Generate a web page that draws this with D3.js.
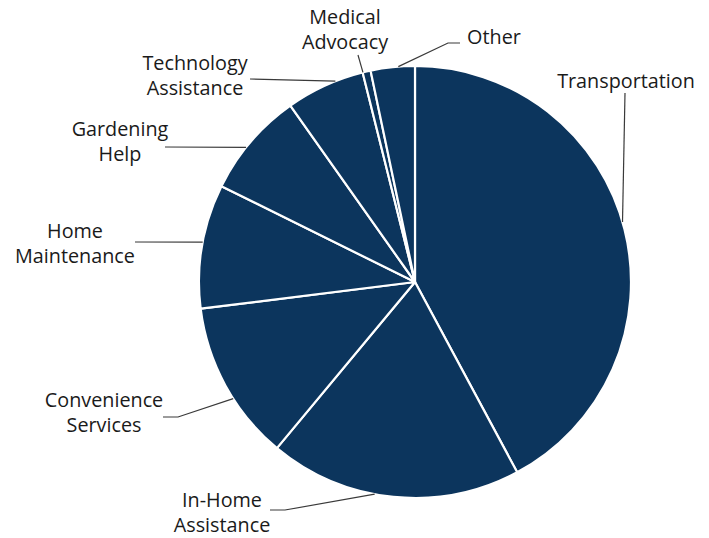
<!DOCTYPE html>
<meta charset="utf-8">
<head>
  <script src="https://d3js.org/d3.v7.min.js"></script>
  <style>
    html, body { margin: 0; background: #fff; }
    text { font-family: 'Open Sans', 'Lato', sans-serif; font-size: 19.8px; fill: #1a1a1a; }
  </style>
</head>
<body>
<div id="my_dataviz"></div>

<script>

// data (share of requests, %)
var categories = ["Transportation", "In-Home Assistance", "Convenience Services", "Home Maintenance",
                  "Gardening Help", "Technology Assistance", "Medical Advocacy", "Other"]
var values = [42.2, 18.9, 12.0, 9.3, 7.9, 5.9, 0.6, 3.3]
var labelLines = [["Transportation"], ["In-Home", "Assistance"], ["Convenience", "Services"],
                  ["Home", "Maintenance"], ["Gardening", "Help"], ["Technology", "Assistance"],
                  ["Medical", "Advocacy"], ["Other"]]

// where each label sits and where its leader line bends
var labelLayout = {
  "Transportation":        {x: 626, y: 83,  elbow: [625, 93],  nudge: -2},
  "In-Home Assistance":    {x: 222, y: 502, elbow: [285, 510], nudge: 5, tail: [270, 510]},
  "Convenience Services":  {x: 104, y: 402, elbow: [178, 417], nudge: -4, tail: [163, 417]},
  "Home Maintenance":      {x: 75,  y: 233, elbow: [135, 242], nudge: 1},
  "Gardening Help":        {x: 120, y: 131, elbow: [165, 147], nudge: -2},
  "Technology Assistance": {x: 195, y: 65,  elbow: [250, 79],  nudge: 3},
  "Medical Advocacy":      {x: 345, y: 19,  elbow: [358, 55],  nudge: -1},
  "Other":                 {x: 494, y: 39,  elbow: [448, 43],  nudge: 1.5, tail: [460, 43]}
}

var width = 709, height = 538
var cx = 415, cy = 282, radius = 216

var svg = d3.select("#my_dataviz")
  .append("svg")
    .attr("width", width)
    .attr("height", height)
    .style("display", "block")

var g = svg.append("g")
    .attr("transform", "translate(" + cx + "," + cy + ")")

var pie = d3.pie().sort(null).value(function(d) { return d.value })
var arcs = pie(categories.map(function(c, i) { return {name: c, value: values[i], lines: labelLines[i]} }))

var arc = d3.arc().innerRadius(0).outerRadius(radius)

g.selectAll("path.slice")
  .data(arcs)
  .enter()
  .append("path")
    .attr("class", "slice")
    .attr("d", arc)
    .style("fill", "#0c355d")
    .style("stroke", "#ffffff")
    .style("stroke-width", 2.2)
    .style("stroke-linejoin", "round")

// leader lines
arcs.forEach(function(a) {
  var lay = labelLayout[a.data.name]
  var ang = (a.startAngle + a.endAngle) / 2 + lay.nudge * Math.PI / 180
  var px = cx + radius * Math.sin(ang)
  var py = cy - radius * Math.cos(ang)
  var pts = [[px, py], lay.elbow]
  if (lay.tail) pts.push(lay.tail)
  svg.append("path")
    .attr("d", d3.line()(pts))
    .style("fill", "none")
    .style("stroke", "#3a3a3a")
    .style("stroke-width", 1.2)
})

// labels
arcs.forEach(function(a) {
  var lay = labelLayout[a.data.name]
  var t = svg.append("text")
    .attr("x", lay.x)
    .attr("y", lay.y)
    .attr("text-anchor", "middle")
    .attr("dominant-baseline", "middle")
  a.data.lines.forEach(function(line, i) {
    t.append("tspan")
      .attr("x", lay.x)
      .attr("dy", i == 0 ? 0 : 24.5)
      .text(line)
  })
})

</script>
</body>
